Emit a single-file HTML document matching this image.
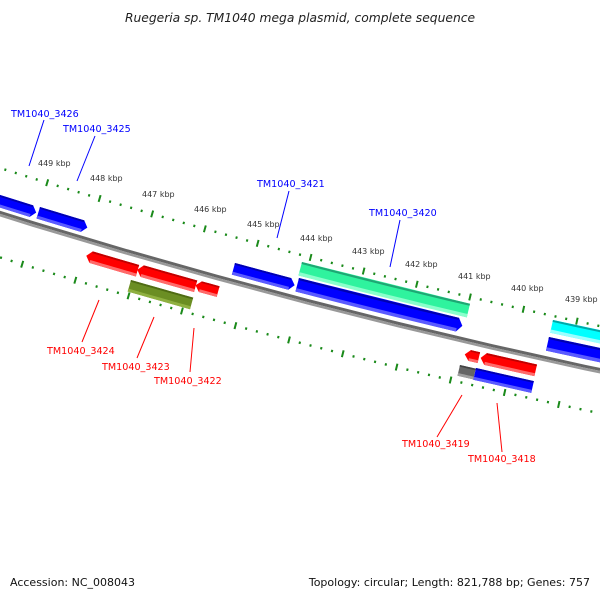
<!DOCTYPE html>
<html><head><meta charset="utf-8"><style>
html,body{margin:0;padding:0;background:#fff;}
svg{display:block;}
.k{font-family:"DejaVu Sans","Liberation Sans",sans-serif;font-size:8px;fill:#333;}
.lb{font-family:"DejaVu Sans","Liberation Sans",sans-serif;font-size:9.6px;}
</style></head><body>
<svg id="s" width="600" height="600" viewBox="0 0 600 600" xmlns="http://www.w3.org/2000/svg">
<text x="300" y="22" text-anchor="middle" font-family="DejaVu Sans, Liberation Sans, sans-serif" font-style="italic" font-size="12.3" fill="#222">Ruegeria sp. TM1040 mega plasmid, complete sequence</text>
<g id="shapes"></g>
<text class="k" x="38" y="166">449 kbp</text>
<text class="k" x="90" y="181">448 kbp</text>
<text class="k" x="142" y="197">447 kbp</text>
<text class="k" x="194" y="212">446 kbp</text>
<text class="k" x="247" y="227">445 kbp</text>
<text class="k" x="300" y="241">444 kbp</text>
<text class="k" x="352" y="254">443 kbp</text>
<text class="k" x="405" y="267">442 kbp</text>
<text class="k" x="458" y="279">441 kbp</text>
<text class="k" x="511" y="291">440 kbp</text>
<text class="k" x="565" y="302">439 kbp</text>
<g stroke-width="1">
<line x1="44" y1="120" x2="29" y2="166" stroke="#00f"/>
<line x1="95" y1="136" x2="77" y2="181" stroke="#00f"/>
<line x1="289" y1="191" x2="277" y2="238" stroke="#00f"/>
<line x1="400" y1="220" x2="390" y2="267" stroke="#00f"/>
<line x1="99" y1="300" x2="82" y2="342" stroke="#f00"/>
<line x1="154" y1="317" x2="137" y2="358" stroke="#f00"/>
<line x1="194" y1="328" x2="190" y2="372" stroke="#f00"/>
<line x1="462" y1="395" x2="437" y2="437" stroke="#f00"/>
<line x1="497" y1="403" x2="502" y2="452" stroke="#f00"/>
</g>
<text class="lb" fill="#00f" x="11" y="117">TM1040_3426</text>
<text class="lb" fill="#00f" x="63" y="132">TM1040_3425</text>
<text class="lb" fill="#00f" x="257" y="187">TM1040_3421</text>
<text class="lb" fill="#00f" x="369" y="216">TM1040_3420</text>
<text class="lb" fill="#f00" x="47" y="354">TM1040_3424</text>
<text class="lb" fill="#f00" x="102" y="370">TM1040_3423</text>
<text class="lb" fill="#f00" x="154" y="384">TM1040_3422</text>
<text class="lb" fill="#f00" x="402" y="447">TM1040_3419</text>
<text class="lb" fill="#f00" x="468" y="462">TM1040_3418</text>
<text x="10" y="586" font-family="DejaVu Sans, Liberation Sans, sans-serif" font-size="11" fill="#111">Accession: NC_008043</text>
<text x="590" y="586" text-anchor="end" font-family="DejaVu Sans, Liberation Sans, sans-serif" font-size="11" fill="#111">Topology: circular; Length: 821,788 bp; Genes: 757</text>
</svg>
<script>
(function(){
var C={x:1976.5,y:-6115.6};
var R=Math.hypot(0-C.x,213-C.y);
var phi0=Math.atan2(213-C.y,0-C.x);
function P(u,v){var a=phi0-u/R,r=R+v;return [C.x+r*Math.cos(a),C.y+r*Math.sin(a)];}
function UV(x,y){var r=Math.hypot(x-C.x,y-C.y),a=Math.atan2(y-C.y,x-C.x);return [(phi0-a)*R,r-R];}
var g=document.getElementById('shapes');var NS='http://www.w3.org/2000/svg';
function poly(pts,fill){var p=document.createElementNS(NS,'polygon');p.setAttribute('points',pts.map(function(q){return q[0].toFixed(2)+','+q[1].toFixed(2);}).join(' '));p.setAttribute('fill',fill);g.appendChild(p);}
function band(u1,u2,v1,v2,fill){var pts=[],n=8,i;for(i=0;i<=n;i++)pts.push(P(u1+(u2-u1)*i/n,v1));for(i=n;i>=0;i--)pts.push(P(u1+(u2-u1)*i/n,v2));poly(pts,fill);}
// backbone
band(-60,700,-2,1,'#666');band(-60,700,1,3.5,'#999');
// ticks
var t449=UV(48,180)[0],t441=UV(471,293)[0],kb=(t441-t449)/8;
var vu=UV(58,186)[1],vl=UV(2,258)[1];
for(var k=-2;k<=12;k++){for(var m=0;m<5;m++){var u=t449+kb*(k+m/5);
 [vu,vl].forEach(function(vc){ if(m==0){band(u-1,u+1,vc-3.5,vc+3.5,'#1a8a1a');} else {band(u-1,u+1,vc-1.2,vc+1.2,'#1a8a1a');}});}}
var cols={blue:['#0000ff','#0000b0','#5a5aff'],red:['#ff0000','#c00000','#ff6a6a'],green:['#2ff39e','#1fa774','#8affcc'],cyan:['#00ffff','#00a8a8','#9affff'],olive:['#6b8e23','#4f6b14','#8fb040'],gray:['#666666','#444','#a0a0a0']};
function gene(tl,endx,h,col,dir){var a=UV(tl[0],tl[1]);var u1=a[0],v1=a[1],v2=v1+h;
 var e=UV(endx[0],endx[1]);var u2=e[0];var vm=(v1+v2)/2,ah=Math.min(5,(u2-u1)/2);var c=cols[col];
 var pts;
 if(dir>0)pts=[P(u1,v1),P(u2-ah,v1),P(u2,vm),P(u2-ah,v2),P(u1,v2)];
 else if(dir<0)pts=[P(u1+ah,v1),P(u2,v1),P(u2,v2),P(u1+ah,v2),P(u1,vm)];
 else pts=[P(u1,v1),P(u2,v1),P(u2,v2),P(u1,v2)];
 poly(pts,c[0]);
 var s1=dir<0?u1+ah:u1,s2=dir>0?u2-ah:u2;
 band(s1,s2,v1,v1+Math.max(1.5,h*0.15),c[1]);
 band(s1,s2,v2-Math.max(2,h*0.25),v2,c[2]);}
// endx given as point on tip/right edge mid
gene([-60,176],[37,210],12,'blue',1);
gene([40,207],[89,222],12,'blue',1);
gene([235,263],[296,280],12,'blue',1);
gene([302,262],[469,308],14,'green',0);
gene([299,278],[463,323],14,'blue',1);
gene([553,320],[640,352],13,'cyan',0);
gene([549,337],[640,370],14,'blue',1);
gene([88,250],[138,269],12,'red',-1);
gene([139,264],[196,285],12,'red',-1);
gene([197,280],[218,292],11,'red',-1);
gene([131,280],[192,302],12,'olive',0);
gene([466,349],[479,357],11,'red',-1);
gene([482,352],[536,369],12,'red',-1);
gene([460,365],[475,372],11,'gray',0);
gene([476,368],[533,385],12,'blue',0);
})();
</script>
</body></html>
